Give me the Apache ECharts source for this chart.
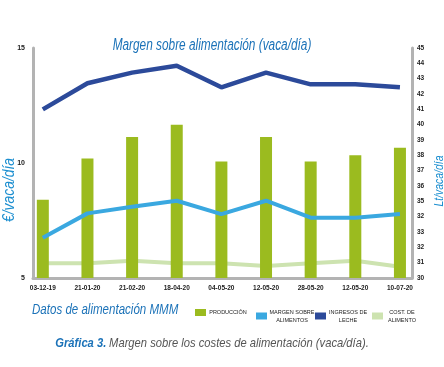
<!DOCTYPE html>
<html><head><meta charset="utf-8">
<script src="https://cdn.jsdelivr.net/npm/echarts@6/dist/echarts.min.js"></script>
<style>html,body{margin:0;padding:0;background:#fff}#c{width:444px;height:367px}</style>
</head><body><div id="c"></div>
<script>
const categories = ['03-12-19','21-01-20','21-02-20','18-04-20','04-05-20','12-05-20','28-05-20','12-05-20','10-07-20'];
const produccion = [35.1, 37.8, 39.2, 40.0, 37.6, 39.2, 37.6, 38.0, 38.5];
const margen = [6.75, 7.81, 8.10, 8.36, 7.78, 8.36, 7.62, 7.62, 7.78];
const ingresos = [12.33, 13.47, 13.93, 14.23, 13.29, 13.93, 13.42, 13.42, 13.29];
const coste = [5.64, 5.64, 5.75, 5.64, 5.64, 5.52, 5.64, 5.75, 5.49];
const rightTickLabels = ['30','31','32','33','32','35','36','37','38','39','40','41','42','43','44','45'];
const leftTickLabels = ['5','10','15'];

const F = '"Liberation Sans", Arial, sans-serif';
const pair = arr => arr.map((v, i) => [i, v]);
const legendText = {
  'PRODUCCIÓN': 'PRODUCCIÓN',
  'MARGEN SOBRE ALIMENTOS': 'MARGEN SOBRE\nALIMENTOS',
  'INGRESOS DE LECHE': 'INGRESOS DE\nLECHE',
  'COST. DE ALIMENTO': 'COST. DE\nALIMENTO'
};
const leg = (name, left, w) => ({
  data: [{name: name, icon: 'rect'}], left: left, top: 309, itemWidth: 11, itemHeight: 7, itemGap: 3,
  selectedMode: false, padding: 0,
  formatter: n => '{t|' + legendText[n] + '}',
  textStyle: {rich: {t: {fontFamily: F, fontSize: 5.5, color: '#222', lineHeight: 8, align: 'center', width: w}}}
});
const blue = '#1b72b8';
const nameBlue = '#1d8fd0';

const chart = echarts.init(document.getElementById('c'), null, {renderer: 'canvas'});
chart.setOption({
  animation: false,
  backgroundColor: '#fff',
  graphic: [
    {type: 'text', x: 212, y: 46, scaleX: 0.74, silent: true,
     style: {text: 'Margen sobre alimentación (vaca/día)', fontFamily: F, fontStyle: 'italic', fontSize: 16,
             fill: blue, align: 'center', verticalAlign: 'middle'}},
    {type: 'text', x: 32, y: 310, scaleX: 0.77, silent: true,
     style: {text: 'Datos de alimentación MMM', fontFamily: F, fontStyle: 'italic', fontSize: 15,
             fill: blue, align: 'left', verticalAlign: 'middle'}},
    {type: 'text', x: 212, y: 343, scaleX: 0.83, silent: true,
     style: {text: '{a|Gráfica 3.} {b|Margen sobre los costes de alimentación (vaca/día).}',
             align: 'center', verticalAlign: 'middle',
             rich: {
               a: {fontFamily: F, fontStyle: 'italic', fontWeight: 'bold', fontSize: 13.5, fill: blue},
               b: {fontFamily: F, fontStyle: 'italic', fontWeight: 'normal', fontSize: 13.5, fill: '#555'}
             }}},
    {type: 'text', x: 10, y: 190, rotation: Math.PI / 2, scaleX: 0.87, silent: true,
     style: {text: '€/vaca/día', fontFamily: F, fontStyle: 'italic', fontSize: 16,
             fill: nameBlue, align: 'center', verticalAlign: 'middle'}},
    {type: 'text', x: 439, y: 181, rotation: Math.PI / 2, scaleX: 0.8, silent: true,
     style: {text: 'Lt/vaca/día', fontFamily: F, fontStyle: 'italic', fontSize: 13,
             fill: nameBlue, align: 'center', verticalAlign: 'middle'}}
  ],
  legend: [
    leg('PRODUCCIÓN', 195, 34),
    leg('MARGEN SOBRE ALIMENTOS', 256, 40),
    leg('INGRESOS DE LECHE', 315, 34),
    leg('COST. DE ALIMENTO', 372, 28)
  ],
  grid: {left: 33, right: 32, top: 48, bottom: 89},
  xAxis: {
    type: 'value', min: -0.22, max: 8.27,
    axisLine: {show: true, onZero: false, lineStyle: {color: '#b3b3b3', width: 3}},
    axisTick: {show: false},
    splitLine: {show: false},
    axisLabel: {customValues: [0,1,2,3,4,5,6,7,8], formatter: v => categories[Math.round(v)],
      fontFamily: F, fontWeight: 'bold', fontSize: 6.5, color: '#222', margin: 7}
  },
  yAxis: [
    {type: 'value', min: 5, max: 15, interval: 5, position: 'left',
     axisLine: {show: true, onZero: false, lineStyle: {color: '#b3b3b3', width: 3}},
     axisTick: {show: false}, splitLine: {show: false},
     axisLabel: {formatter: (v, i) => leftTickLabels[i], fontFamily: F, fontWeight: 'bold', fontSize: 7, color: '#222', margin: 8}},
    {type: 'value', min: 30, max: 45, interval: 1, position: 'right',
     axisLine: {show: true, onZero: false, lineStyle: {color: '#b3b3b3', width: 3}},
     axisTick: {show: false}, splitLine: {show: false},
     axisLabel: {formatter: (v, i) => rightTickLabels[i], fontFamily: F, fontWeight: 'bold', fontSize: 6.5, color: '#222', margin: 5}}
  ],
  series: [
    {name: 'PRODUCCIÓN', type: 'bar', yAxisIndex: 1, barWidth: 12, data: pair(produccion),
     itemStyle: {color: '#9bbb1f'}},
    {name: 'COST. DE ALIMENTO', type: 'line', yAxisIndex: 0, data: pair(coste), symbol: 'none',
     itemStyle: {color: '#cde3b0'}, lineStyle: {color: '#cde3b0', width: 4}, z: 1},
    {name: 'MARGEN SOBRE ALIMENTOS', type: 'line', yAxisIndex: 0, data: pair(margen), symbol: 'none',
     itemStyle: {color: '#3aa8e0'}, lineStyle: {color: '#3aa8e0', width: 4}},
    {name: 'INGRESOS DE LECHE', type: 'line', yAxisIndex: 0, data: pair(ingresos), symbol: 'none',
     itemStyle: {color: '#2c4a9a'}, lineStyle: {color: '#2c4a9a', width: 4.5}}
  ]
});
</script></body></html>
